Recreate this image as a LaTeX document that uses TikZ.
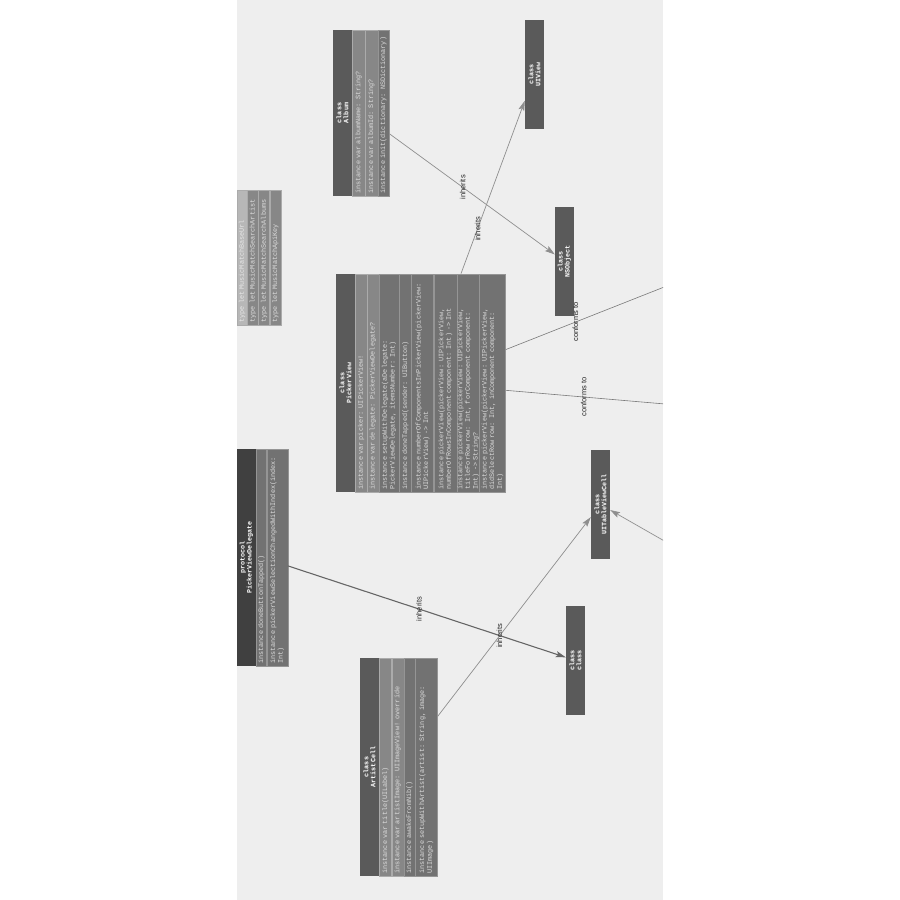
\documentclass[tikz,border=0pt]{standalone}
\usepackage{fontspec}
\setmonofont{Liberation Mono}
\setsansfont{Liberation Sans}
\usetikzlibrary{arrows.meta,calc,fit}
\definecolor{canvas}{HTML}{EEEEEE}
\definecolor{hdrgray}{HTML}{5A5A5A}
\definecolor{protogray}{HTML}{404040}
\definecolor{propgray}{HTML}{878787}
\definecolor{methgray}{HTML}{727272}
\definecolor{rowtext}{HTML}{DCDCDC}
\definecolor{edgegray}{HTML}{8E8E8E}
\newcommand{\hdrfont}{\ttfamily\bfseries\fontsize{6.7}{7}\selectfont}
\newcommand{\rowfont}{\ttfamily\fontsize{6.8}{7.6}\selectfont}
\newcommand{\lblfont}{\sffamily\fontsize{7.5}{8}\selectfont}

\begin{document}
\begin{tikzpicture}[x=1pt, y=-1pt,
    hdr/.style={rotate=90, fill=hdrgray, text=white, font=\hdrfont, align=center,
      inner sep=0pt, minimum height=19pt, minimum width=#1},
    prop/.style={rotate=90, anchor=north, fill=propgray, draw=propgray!70!white,
      line width=0.3pt, text=rowtext, font=\rowfont, align=left,
      inner xsep=2.5pt, inner ysep=0pt, text width=#1},
    meth/.style={prop=#1, fill=methgray, draw=methgray!75!white},
    inh/.style={draw=edgegray, line width=0.7pt, -{Stealth[length=10pt,width=6pt,inset=2pt]}},
    lbl/.style={rotate=90, font=\lblfont, text=black!85, inner sep=0pt}]
  \useasboundingbox (0,0) rectangle (900,900);
  \begin{scope}
    \clip (237,0) rectangle (663,900);
    \fill[canvas] (237,0) rectangle (663,900);

    \node[prop=130pt, minimum height=10pt, fill=propgray!60!white, text=rowtext!70!white, anchor=center] (cst-r0) at (242, 257.5) {type let MusicMatchBaseUrl};
    \node[prop=130pt, minimum height=11pt] (cst-r1) at (cst-r0.south) {type let MusicMatchSearchArtist};
    \node[prop=130pt, minimum height=11pt] (cst-r2) at (cst-r1.south) {type let MusicMatchSearchAlbums};
    \node[prop=130pt, minimum height=11pt] (cst-r3) at (cst-r2.south) {type let MusicMatchApiKey};

    \node[hdr=166pt] (alb-h) at (342.5, 113) {class\\Album};
    \node[prop=161pt, minimum height=12.5pt] (alb-p1) at (alb-h.south) {instance var albumName: String?};
    \node[prop=161pt, minimum height=12.5pt] (alb-p2) at (alb-p1.south) {instance var albumId: String?};
    \node[meth=161pt, minimum height=11pt] (alb-m1) at (alb-p2.south) {instance init(dictionary: NSDictionary)};
    \node[fit=(alb-h)(alb-m1), inner sep=0pt] (alb) {};

    \node[hdr=218pt] (pv-h) at (345.5, 383) {class\\PickerView};
    \node[prop=213pt, minimum height=11.5pt] (pv-p1) at (pv-h.south) {instance var picker: UIPickerView!};
    \node[prop=213pt, minimum height=11.5pt] (pv-p2) at (pv-p1.south) {instance var delegate: PickerViewDelegate?};
    \node[meth=213pt, minimum height=20pt] (pv-m1) at (pv-p2.south) {instance setupWithDelegate(aDelegate:\\PickerViewDelegate, itemsNumber: Int)};
    \node[meth=213pt, minimum height=12pt] (pv-m2) at (pv-m1.south) {instance doneTapped(sender: UIButton)};
    \node[meth=213pt, minimum height=22pt] (pv-m3) at (pv-m2.south) {instance numberOfComponentsInPickerView(pickerView:\\UIPickerView) -> Int};
    \node[meth=213pt, minimum height=23pt] (pv-m4) at (pv-m3.south) {instance pickerView(pickerView: UIPickerView,\\numberOfRowsInComponent component: Int) -> Int};
    \node[meth=213pt, minimum height=22pt] (pv-m5) at (pv-m4.south) {instance pickerView(pickerView: UIPickerView,\\titleForRow row: Int, forComponent component:\\Int) -> String?};
    \node[meth=213pt, minimum height=26pt] (pv-m6) at (pv-m5.south) {instance pickerView(pickerView: UIPickerView,\\didSelectRow row: Int, inComponent component:\\Int)};
    \node[fit=(pv-h)(pv-m6), inner sep=0pt] (pv) {};

    \node[hdr=217pt, fill=protogray] (pvd-h) at (246.5, 557.5) {protocol\\PickerViewDelegate};
    \node[meth=212pt, minimum height=10pt] (pvd-m1) at (pvd-h.south) {instance doneButtonTapped()};
    \node[meth=212pt, minimum height=21pt] (pvd-m2) at (pvd-m1.south) {instance pickerViewSelectionChangedWithIndex(index:\\Int)};
    \node[fit=(pvd-h)(pvd-m2), inner sep=0pt] (pvd) {};

    \node[hdr=218pt] (ac-h) at (369.5, 767) {class\\ArtistCell};
    \node[prop=213pt, minimum height=12pt] (ac-p1) at (ac-h.south) {instance var title(UILabel)};
    \node[prop=213pt, minimum height=12pt] (ac-p2) at (ac-p1.south) {instance var artistImage: UIImageView! override};
    \node[meth=213pt, minimum height=11pt] (ac-m1) at (ac-p2.south) {instance awakeFromNib()};
    \node[meth=213pt, minimum height=22pt] (ac-m2) at (ac-m1.south) {instance setupWithArtist(artist: String, image:\\UIImage)};
    \node[fit=(ac-h)(ac-m2), inner sep=0pt] (ac) {};

    \node[hdr=109pt] (uiv) at (534.5, 74.5) {class\\UIView};
    \node[hdr=109pt] (nso) at (564.5, 261.5) {class\\NSObject};
    \node[hdr=109pt] (utc) at (600.5, 504.5) {class\\UITableViewCell};
    \node[hdr=109pt] (cls) at (575.5, 660.5) {class\\class};

    \coordinate (cnf1) at (730, 261);
    \coordinate (cnf2) at (746.5, 411);
    \coordinate (cnf3) at (760, 595.6);

    \draw[inh] (alb) -- (nso);
    \draw[inh] (pv) -- (uiv);
    \draw[inh, draw=edgegray!85!black, line width=0.6pt] (pv) -- (cnf1);
    \draw[inh, draw=edgegray!85!black, line width=0.6pt] (pv) -- (cnf2);
    \draw[inh, draw=black!60, line width=1.1pt] (pvd) -- (cls);
    \draw[inh] (ac) -- (utc);
    \draw[inh] (cnf3) -- (utc);

    \node[lbl] at ($(alb)!.5!(nso)$) {inherits};
    \node[lbl] at ($(pv)!.5!(uiv)$) {inherits};
    \node[lbl] at ($(pv)!.5!(cnf1)$) {conforms to};
    \node[lbl] at ($(pv)!.5!(cnf2)$) {conforms to};
    \node[lbl] at ($(pvd)!.5!(cls)$) {inherits};
    \node[lbl] at ($(ac)!.5!(utc)$) {inherits};
  \end{scope}
\end{tikzpicture}
\end{document}
